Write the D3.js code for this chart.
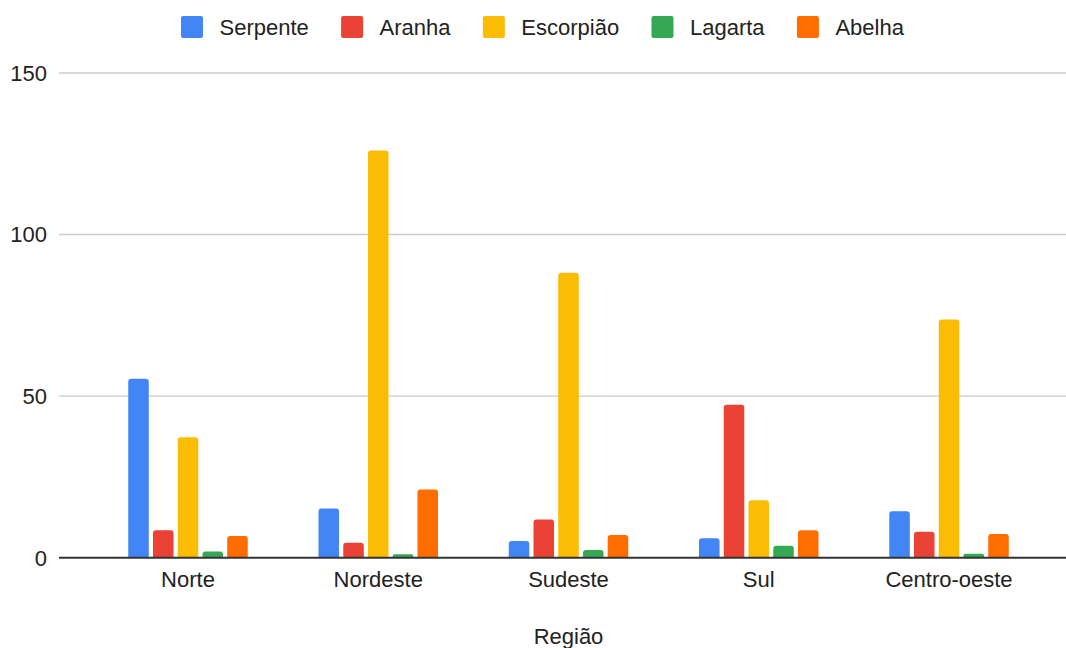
<!DOCTYPE html>
<html>
<head>
<meta charset="utf-8">
<script src="https://cdn.jsdelivr.net/npm/d3@7"></script>
<style>
  html, body { margin: 0; padding: 0; background: #fff; }
  svg { display: block; font-family: "Liberation Sans", Arial, sans-serif; }
</style>
</head>
<body>
<svg id="chart" width="1066" height="648"></svg>
<script>
// Regions on the x axis
const regions = ["Norte", "Nordeste", "Sudeste", "Sul", "Centro-oeste"];

// Series names and colours
const seriesNames = ["Serpente", "Aranha", "Escorpião", "Lagarta", "Abelha"];
const seriesColors = ["#4285F4", "#EA4335", "#FBBC04", "#34A853", "#FF6D01"];

// Values per series, one per region
const serpente  = [55.4, 15.2, 5.2, 6.0, 14.4];
const aranha    = [8.5, 4.6, 11.8, 47.3, 8.0];
const escorpiao = [37.3, 126.0, 88.2, 17.8, 73.7];
const lagarta   = [1.9, 1.1, 2.4, 3.7, 1.2];
const abelha    = [6.7, 21.1, 7.0, 8.5, 7.3];

const yTicks = [0, 50, 100, 150];
const xTitle = "Região";

const seriesValues = [serpente, aranha, escorpiao, lagarta, abelha];

const svg = d3.select("#chart");
const W = 1066, H = 648;
const plotLeft = 59, plotRight = 1078, plotTop = 73, plotBottom = 557.7;

const x0 = d3.scaleBand().domain(regions).range([plotLeft, plotRight])
  .paddingInner(0).paddingOuter(0.178);
const x1 = d3.scaleBand().domain(seriesNames).range([-59.75, 59.75])
  .paddingInner(0.17).paddingOuter(0);
const y = d3.scaleLinear().domain([0, 150]).range([plotBottom, plotTop]);

const fontSize = 22;
const textColor = "#222222";

// Gridlines
svg.append("g").selectAll("line").data(yTicks.filter(t => t !== 0)).join("line")
  .attr("x1", plotLeft).attr("x2", W)
  .attr("y1", d => y(d)).attr("y2", d => y(d))
  .attr("stroke", "#cccccc").attr("stroke-width", 1.4);

// Y tick labels
svg.append("g").selectAll("text").data(yTicks).join("text")
  .attr("x", 47).attr("y", d => y(d))
  .attr("dy", "0.36em")
  .attr("text-anchor", "end")
  .attr("font-size", fontSize).attr("fill", textColor)
  .text(d => d);

// Bars with rounded top corners
function barPath(x, yTop, w, yBase) {
  const h = yBase - yTop;
  const r = Math.min(3, h / 2, w / 2);
  return `M${x},${yBase}V${yTop + r}Q${x},${yTop} ${x + r},${yTop}` +
         `H${x + w - r}Q${x + w},${yTop} ${x + w},${yTop + r}V${yBase}Z`;
}

const bars = [];
seriesNames.forEach((s, si) => {
  regions.forEach((r, ri) => {
    bars.push({ series: s, color: seriesColors[si], region: r, value: seriesValues[si][ri] });
  });
});

svg.append("g").selectAll("path").data(bars).join("path")
  .attr("d", d => {
    const cx = x0(d.region) + x0.bandwidth() / 2;
    return barPath(cx + x1(d.series), y(d.value), x1.bandwidth(), y(0));
  })
  .attr("fill", d => d.color);

// Baseline
svg.append("line")
  .attr("x1", plotLeft).attr("x2", W)
  .attr("y1", y(0)).attr("y2", y(0))
  .attr("stroke", "#333333").attr("stroke-width", 2);

// X category labels
svg.append("g").selectAll("text").data(regions).join("text")
  .attr("x", d => x0(d) + x0.bandwidth() / 2)
  .attr("y", 587)
  .attr("text-anchor", "middle")
  .attr("font-size", fontSize).attr("fill", textColor)
  .text(d => d);

// X axis title
svg.append("text")
  .attr("x", (x0(regions[0]) + x0(regions[4]) + x0.bandwidth()) / 2)
  .attr("y", 644)
  .attr("text-anchor", "middle")
  .attr("font-size", fontSize).attr("fill", textColor)
  .text(xTitle);

// Legend
const legend = svg.append("g");
let lx = 181;
seriesNames.forEach((s, i) => {
  legend.append("rect")
    .attr("x", lx).attr("y", 16)
    .attr("width", 22).attr("height", 22)
    .attr("rx", 2)
    .attr("fill", seriesColors[i]);
  const t = legend.append("text")
    .attr("x", lx + 38.5).attr("y", 27)
    .attr("dy", "0.36em")
    .attr("font-size", fontSize).attr("fill", textColor)
    .text(s);
  lx += 38.5 + t.node().getComputedTextLength() + 32.3;
});
</script>
</body>
</html>
